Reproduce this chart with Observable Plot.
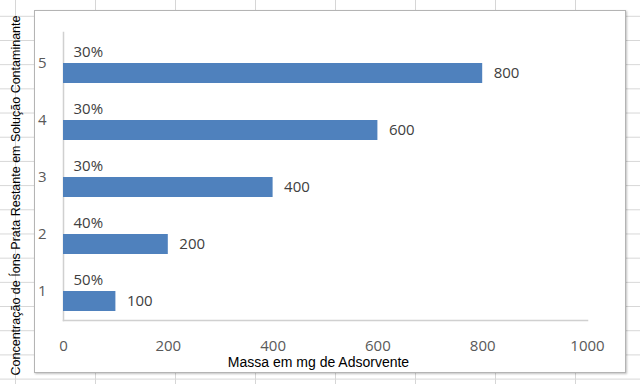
<!DOCTYPE html>
<html>
<head>
<meta charset="utf-8">
<script src="https://cdn.jsdelivr.net/npm/d3@7"></script>
<script src="https://cdn.jsdelivr.net/npm/@observablehq/plot@0.6"></script>
<style>
  html, body { margin: 0; padding: 0; }
  #sheet {
    position: relative; width: 640px; height: 384px; overflow: hidden;
    background-color: #ffffff;
    background-image:
      linear-gradient(to right, #d6d6d6 1px, transparent 1px),
      linear-gradient(to bottom, #d6d6d6 1px, transparent 1px);
    background-size: 80px 24.2px;
    background-position: 15px 15.8px;
  }
  #area {
    position: absolute; left: 34px; top: 10px; width: 590px; height: 361px;
    background: #ffffff; border: 1px solid #b4b4b4;
    box-shadow: 1px 1px 2px rgba(0,0,0,0.25);
  }
  #chart { position: absolute; left: 0; top: 0; }
</style>
</head>
<body>
<div id="sheet"><div id="area"></div><div id="chart"></div></div>
<script>
const categories = [5, 4, 3, 2, 1];
const massa = [800, 600, 400, 200, 100];
const percent = ["30%", "30%", "30%", "40%", "50%"];
const xTicks = [0, 200, 400, 600, 800, 1000];
const xTitle = "Massa em mg de Adsorvente";
const yTitle = "Concentração de Íons Prata Restante em Solução Contaminante";

const data = categories.map((c, i) => ({cat: c, massa: massa[i], pct: percent[i]}));

const chart = Plot.plot({
  width: 640,
  height: 384,
  marginLeft: 63,
  marginRight: 53,
  marginTop: 32,
  marginBottom: 64,
  style: {background: "transparent", fontFamily: "'Open Sans', sans-serif", fontSize: "15px", color: "#595959"},
  x: {domain: [0, 1000], label: null},
  y: {domain: categories, padding: 0, label: null},
  marks: [
    Plot.frame({anchor: "left", stroke: "#d0d0d0", strokeWidth: 1.5}),
    Plot.frame({anchor: "bottom", stroke: "#d0d0d0", strokeWidth: 1.5}),
    Plot.axisX({ticks: xTicks, tickFormat: d3.format("d"), tickSize: 0, tickPadding: 20, label: null, fill: "#595959"}),
    Plot.axisY({tickSize: 0, tickPadding: 17, label: null, fill: "#595959"}),
    Plot.barX(data, {x: "massa", y: "cat", fill: "#4f81bd", insetTop: 29, insetBottom: 8}),
    Plot.text(data, {x: 0, y: "cat", text: "pct", textAnchor: "start", dx: 10, dy: -11, fill: "#404040"}),
    Plot.text(data, {x: "massa", y: "cat", text: d => String(d.massa), textAnchor: "start", dx: 11, dy: 10, fill: "#404040"}),
    Plot.text([xTitle], {frameAnchor: "bottom", text: d => d, textAnchor: "middle", dx: -7, dy: 46, fontFamily: "'Liberation Sans', Arial, sans-serif", fontSize: 14, fill: "#000000"}),
    Plot.text([yTitle], {frameAnchor: "left", text: d => d, textAnchor: "middle", rotate: -90, dx: -48, dy: 19, fontFamily: "'Liberation Sans', Arial, sans-serif", fontSize: 12.5, fill: "#000000"})
  ]
});
document.getElementById("chart").appendChild(chart);
</script>
</body>
</html>
